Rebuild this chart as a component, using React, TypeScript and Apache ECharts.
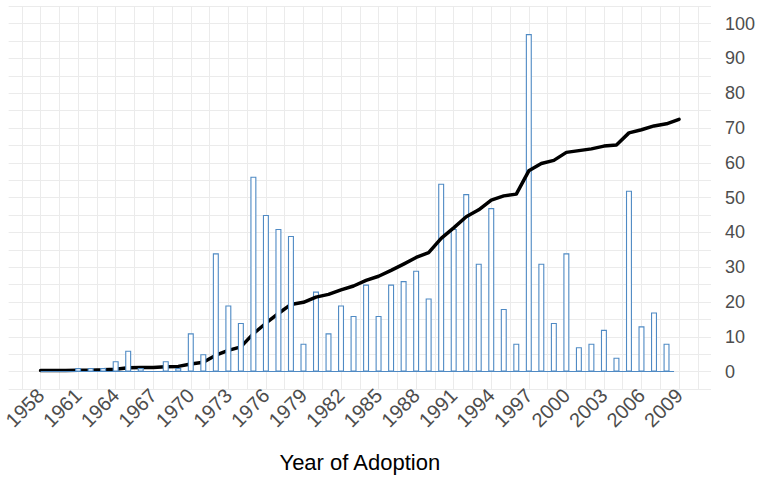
import React, { useEffect, useRef } from "react";
import * as echarts from "echarts";

const years = [
  1958, 1959, 1960, 1961, 1962, 1963, 1964, 1965, 1966, 1967,
  1968, 1969, 1970, 1971, 1972, 1973, 1974, 1975, 1976, 1977,
  1978, 1979, 1980, 1981, 1982, 1983, 1984, 1985, 1986, 1987,
  1988, 1989, 1990, 1991, 1992, 1993, 1994, 1995, 1996, 1997,
  1998, 1999, 2000, 2001, 2002, 2003, 2004, 2005, 2006, 2007,
  2008, 2009,
];

const adoptions = [
  0, 0, 0, 1, 1, 1, 3, 6, 1, 0,
  3, 1, 11, 5, 34, 19, 14, 56, 45, 41,
  39, 8, 23, 11, 19, 16, 25, 16, 25, 26,
  29, 21, 54, 41, 51, 31, 47, 18, 8, 97,
  31, 14, 34, 7, 8, 12, 4, 52, 13, 17,
  8, 0,
];

const cumulative = [
  0.3, 0.3, 0.3, 0.4, 0.4, 0.5, 0.7, 1.1, 1.2, 1.2,
  1.4, 1.5, 2.2, 2.7, 4.7, 6.1, 7.1, 10.9, 13.9, 16.7,
  19.3, 19.9, 21.4, 22.2, 23.5, 24.6, 26.2, 27.4, 29.1, 30.9,
  32.8, 34.2, 38.3, 41.3, 44.5, 46.5, 49.3, 50.5, 51.0, 57.7,
  59.8, 60.7, 63.0, 63.5, 64.0, 64.8, 65.1, 68.6, 69.5, 70.6,
  71.2, 72.5,
];

const xTickLabels = [
  1958, 1961, 1964, 1967, 1970, 1973, 1976, 1979, 1982, 1985,
  1988, 1991, 1994, 1997, 2000, 2003, 2006, 2009,
];

const yTickLabels = [0, 10, 20, 30, 40, 50, 60, 70, 80, 90, 100];

const BAR_BLUE = "#4f8ac4";
const FONT = "'Liberation Sans', Arial, sans-serif";

export default function App() {
  const ref = useRef<HTMLDivElement>(null);

  useEffect(() => {
    if (!ref.current) return;
    const chart = echarts.init(ref.current, null, { renderer: "svg" });

    const first = years[0];
    const last = years[years.length - 1];
    const pad = (last - first) * 0.05;

    const step = (xTickLabels[1] - xTickLabels[0]) / 2;
    const gridX: number[] = [];
    for (
      let v = xTickLabels[0] - step;
      v <= xTickLabels[xTickLabels.length - 1] + step + 1e-9;
      v += step
    ) {
      gridX.push(v);
    }

    const early: number[][] = [];
    const late: number[][] = [];
    years.forEach((y, i) => {
      if (adoptions[i] <= 0) return;
      if (y < 1980) early.push([y, adoptions[i]]);
      else late.push([y, adoptions[i]]);
    });

    const barStyle = {
      color: "#ffffff",
      borderColor: BAR_BLUE,
      borderWidth: 1.1,
    };

    chart.setOption({
      animation: false,
      backgroundColor: "#ffffff",
      grid: { left: 5, right: 45, top: 6.2, bottom: 87.8, containLabel: false },
      xAxis: {
        type: "value",
        min: first - pad,
        max: last + pad,
        name: "Year of Adoption",
        nameLocation: "middle",
        nameGap: 62,
        nameTextStyle: { fontSize: 22, color: "#000000", fontFamily: FONT },
        axisLine: { show: false },
        axisTick: { show: false, customValues: gridX },
        axisLabel: {
          customValues: xTickLabels,
          rotate: 45,
          margin: 3,
          fontSize: 20,
          color: "#4d4d4d",
          fontFamily: FONT,
          hideOverlap: false,
          formatter: (v: number) => String(Math.round(v)),
        },
        splitLine: { show: true, lineStyle: { color: "#ebebeb", width: 1 } },
      },
      yAxis: {
        type: "value",
        position: "right",
        min: -5,
        max: 105,
        interval: 5,
        axisLine: { show: false },
        axisTick: { show: false },
        axisLabel: {
          margin: 14,
          fontSize: 18,
          color: "#4d4d4d",
          fontFamily: FONT,
          formatter: (v: number) =>
            yTickLabels.indexOf(Math.round(v)) >= 0 && Math.abs(v - Math.round(v)) < 1e-6
              ? String(Math.round(v))
              : "",
        },
        splitLine: { show: true, lineStyle: { color: "#ebebeb", width: 1 } },
      },
      series: [
        {
          type: "bar",
          name: "late",
          z: 1,
          barWidth: 6,
          barGap: "-100%",
          itemStyle: barStyle,
          data: late,
          markLine: {
            silent: true,
            symbol: "none",
            label: { show: false },
            lineStyle: { color: BAR_BLUE, width: 1, type: "solid" },
            data: [[{ coord: [first, 0] }, { coord: [last - 0.4, 0] }]],
          },
        },
        {
          type: "line",
          name: "cumulative",
          z: 2,
          showSymbol: false,
          symbol: "none",
          lineStyle: { color: "#000000", width: 3.5, cap: "round", join: "round" },
          data: years.map((y, i) => [y, cumulative[i]]),
        },
        {
          type: "bar",
          name: "early",
          z: 3,
          barWidth: 6,
          barGap: "-100%",
          itemStyle: barStyle,
          data: early,
        },
      ],
    });

    return () => chart.dispose();
  }, []);

  return (
    <div
      ref={ref}
      style={{ position: "fixed", left: 0, top: 0, width: 758, height: 478 }}
    />
  );
}
